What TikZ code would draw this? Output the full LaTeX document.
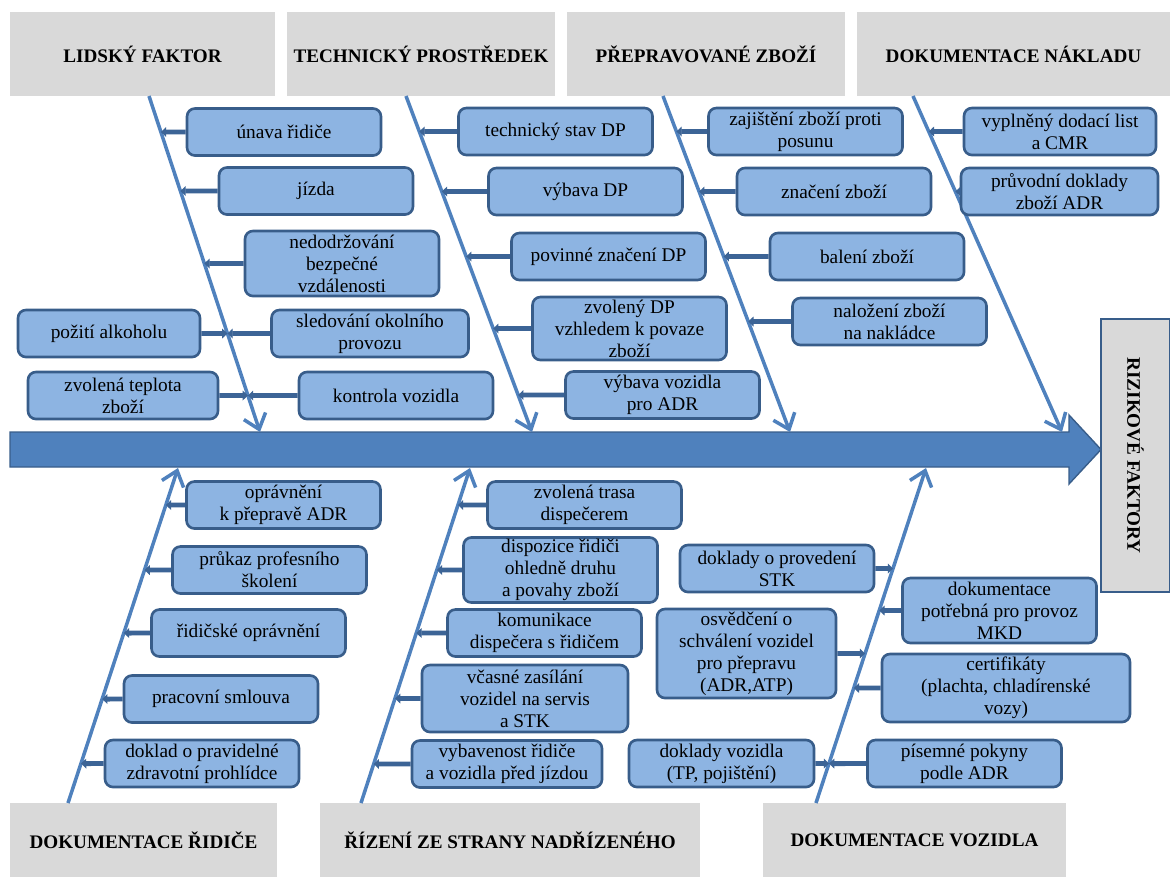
\documentclass[tikz,border=0pt]{standalone}
\usepackage{fontspec}
\setmainfont{Liberation Serif}
\usepackage{xcolor}
\usepackage{tikz}
\usetikzlibrary{arrows.meta}

\definecolor{headgray}{RGB}{217,217,217}
\definecolor{causefill}{RGB}{141,180,226}
\definecolor{causeline}{RGB}{56,93,138}
\definecolor{boneblue}{RGB}{79,129,189}
\definecolor{linkblue}{RGB}{60,100,150}

\begin{document}
\begin{tikzpicture}[x=0.02cm,y=-0.02cm,
  cause/.style={draw=causeline,fill=causefill,line width=1.5pt,rounded corners=4.5pt,
    minimum width=3.88cm,minimum height=0.94cm,inner sep=1pt,align=center,
    font=\fontsize{11}{12.5}\selectfont},
  head/.style={fill=headgray,minimum height=1.68cm,inner sep=0pt,
    font=\bfseries\fontsize{10.9}{13}\selectfont},
  bone/.style={draw=boneblue,line width=2pt,-{Straight Barb[length=8pt,width=13pt]}},
  link/.style={draw=linkblue,line width=2.8pt,-{Triangle[length=3pt,width=5.5pt]}}]
  \useasboundingbox (0,0) rectangle (1170,877);

  % headings
  \node[head,minimum width=5.3cm] (lidsky) at (142.5,54) {LIDSKÝ FAKTOR};
  \node[head,minimum width=5.36cm] (technicky) at (421,54) {TECHNICKÝ PROSTŘEDEK};
  \node[head,minimum width=5.56cm] (zbozi) at (706,54) {PŘEPRAVOVANÉ ZBOŽÍ};
  \node[head,minimum width=6.26cm] (naklad) at (1013.5,54) {DOKUMENTACE NÁKLADU};
  \node[head,minimum width=5.34cm,minimum height=1.48cm] (ridic) at (143.5,840) {DOKUMENTACE ŘIDIČE};
  \node[head,minimum width=7.6cm,minimum height=1.48cm] (rizeni) at (510,840) {ŘÍZENÍ ZE STRANY NADŘÍZENÉHO};
  \node[head,minimum width=6.06cm,minimum height=1.48cm] (vozidlo) at (914.5,840) {DOKUMENTACE VOZIDLA};
  \node[head,draw=causeline,line width=1pt,rotate=-90,minimum width=5.46cm,minimum height=1.38cm] (riziko) at (1135.5,455.5) {RIZIKOVÉ FAKTORY};

  % spine
  \filldraw[fill=boneblue,draw=causeline,line width=0.8pt] (10,432) -- (1069,432) -- (1069,415)
    -- (1101,449.5) -- (1069,484) -- (1069,467) -- (10,467) -- cycle;

  % bones
  \coordinate (b1-a) at (149,96);  \coordinate (b1-b) at (260,432);
  \coordinate (b2-a) at (406,96);  \coordinate (b2-b) at (532,432);
  \coordinate (b3-a) at (663,96);  \coordinate (b3-b) at (790,432);
  \coordinate (b4-a) at (913,96);  \coordinate (b4-b) at (1062,432);
  \coordinate (b5-a) at (68,803);  \coordinate (b5-b) at (178,468);
  \coordinate (b6-a) at (361,803); \coordinate (b6-b) at (470,468);
  \coordinate (b7-a) at (816,803); \coordinate (b7-b) at (926,468);
  \foreach \bn in {b1,b2,b3,b4,b5,b6,b7}
    \draw[bone] (\bn-a) -- (\bn-b);

  % lidsky faktor
  \node[cause] (unava) at (284,132) {únava řidiče};
  \node[cause] (jizda) at (316,191) {jízda};
  \node[cause,minimum height=1.3cm] (nedodrz) at (342,263.5) {nedodržování\\bezpečné\\vzdálenosti};
  \node[cause,minimum width=3.94cm] (sledov) at (370,333.5) {sledování okolního\\provozu};
  \node[cause,minimum width=3.64cm] (poziti) at (109,333.5) {požití alkoholu};
  \node[cause,minimum width=3.8cm] (teplota) at (123,395.5) {zvolená teplota\\zboží};
  \node[cause] (kontrola) at (396,395.5) {kontrola vozidla};

  % technicky prostredek
  \node[cause] (techstav) at (555.5,131.5) {technický stav DP};
  \node[cause] (vybavadp) at (585.5,191.5) {výbava DP};
  \node[cause] (povinne) at (608.5,256.5) {povinné značení DP};
  \node[cause,minimum height=1.26cm] (zvolenydp) at (629.5,328.5) {zvolený DP\\vzhledem k povaze\\zboží};
  \node[cause] (vybavaadr) at (662.5,395) {výbava vozidla\\pro ADR};

  % prepravovane zbozi
  \node[cause] (zajist) at (805.5,131.5) {zajištění zboží proti\\posunu};
  \node[cause] (znaceni) at (834,191.5) {značení zboží};
  \node[cause] (baleni) at (867,256.5) {balení zboží};
  \node[cause] (nalozeni) at (889.5,321.5) {naložení zboží\\na nakládce};

  % dokumentace nakladu
  \node[cause,minimum width=3.84cm] (vyplneny) at (1060,131.5) {vyplněný dodací list\\a CMR};
  \node[cause,minimum width=3.94cm] (pruvodni) at (1059.5,191.5) {průvodní doklady\\zboží ADR};

  % dokumentace ridice
  \node[cause] (opravn) at (283.5,505) {oprávnění\\k přepravě ADR};
  \node[cause] (prukaz) at (269.5,570) {průkaz profesního\\školení};
  \node[cause] (ridicske) at (248.5,633) {řidičské oprávnění};
  \node[cause] (pracovni) at (221,699) {pracovní smlouva};
  \node[cause] (prohlidka) at (202,763.5) {doklad o pravidelné\\zdravotní prohlídce};

  % rizeni ze strany nadrizeneho
  \node[cause] (trasa) at (584.5,505) {zvolená trasa\\dispečerem};
  \node[cause,minimum height=1.28cm] (dispozice) at (560.5,570) {dispozice řidiči\\ohledně druhu\\a povahy zboží};
  \node[cause] (komunik) at (544.5,633) {komunikace\\dispečera s řidičem};
  \node[cause,minimum width=4.12cm,minimum height=1.34cm] (servis) at (525,698.5) {včasné zasílání\\vozidel na servis\\a STK};
  \node[cause,minimum width=3.8cm] (vybaven) at (507,764) {vybavenost řidiče\\a vozidla před jízdou};

  % dokumentace vozidla
  \node[cause] (stk) at (777,568.5) {doklady o provedení\\STK};
  \node[cause,minimum width=3.58cm,minimum height=1.78cm] (osvedc) at (746.5,653.5) {osvědčení o\\schválení vozidel\\pro přepravu\\(ADR,ATP)};
  \node[cause,minimum width=3.7cm] (dokvoz) at (721.5,763.5) {doklady vozidla\\(TP, pojištění)};
  \node[cause,minimum height=1.3cm] (mkd) at (999.5,610.5) {dokumentace\\potřebná pro provoz\\MKD};
  \node[cause,minimum width=4.96cm,minimum height=1.36cm] (certif) at (1006,688) {certifikáty\\(plachta, chladírenské\\vozy)};
  \node[cause] (pisemne) at (964.5,763.5) {písemné pokyny\\podle ADR};

  % links from the boxes to the bones
  \foreach \cn/\side/\bn in {unava/west/b1,jizda/west/b1,nedodrz/west/b1,sledov/west/b1,
      kontrola/west/b1,poziti/east/b1,teplota/east/b1,
      techstav/west/b2,vybavadp/west/b2,povinne/west/b2,zvolenydp/west/b2,vybavaadr/west/b2,
      zajist/west/b3,znaceni/west/b3,baleni/west/b3,nalozeni/west/b3,
      vyplneny/west/b4,pruvodni/west/b4,
      opravn/west/b5,prukaz/west/b5,ridicske/west/b5,pracovni/west/b5,prohlidka/west/b5,
      trasa/west/b6,dispozice/west/b6,komunik/west/b6,servis/west/b6,vybaven/west/b6,
      stk/east/b7,osvedc/east/b7,dokvoz/east/b7,mkd/west/b7,certif/west/b7,pisemne/west/b7}
    \draw[link] (\cn.\side) -- (intersection cs: first line={(\bn-a)--(\bn-b)},
      second line={(\cn.west)--(\cn.east)});
\end{tikzpicture}
\end{document}
